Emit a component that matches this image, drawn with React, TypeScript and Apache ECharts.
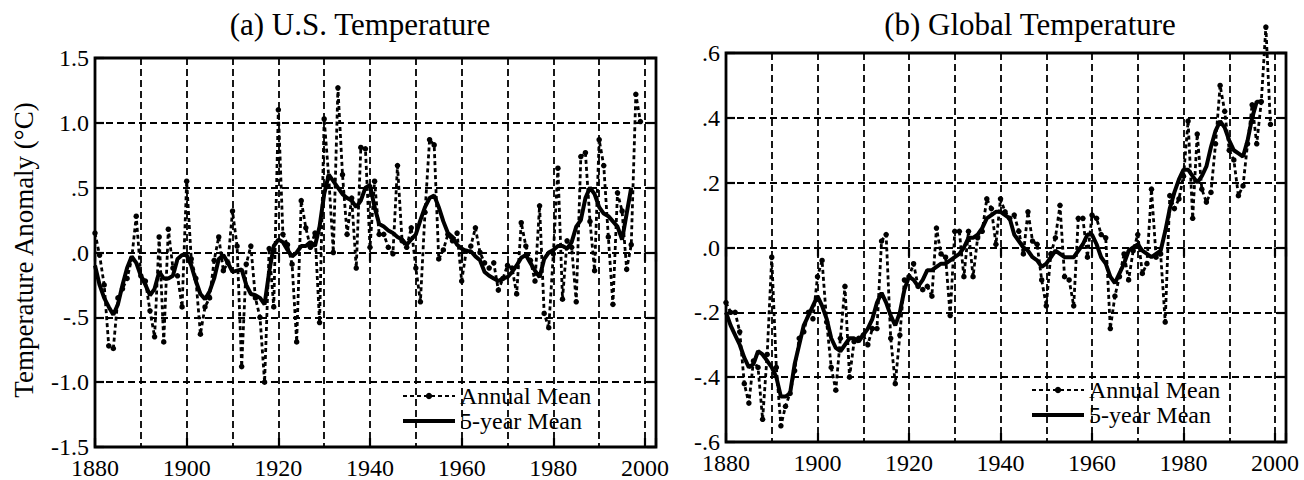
import React, { useEffect, useRef } from "react";
import * as echarts from "echarts";

const START_YEAR = 1880;
const X_MIN = 1880;
const X_MAX = 2002.4;
const FONT = '"Liberation Serif", "Times New Roman", serif';

const usAnnual = [
  0.15, -0.02, -0.25, -0.72, -0.74, -0.35, -0.28, -0.2, -0.05, 0.28,
  -0.18, -0.22, -0.45, -0.65, 0.12, -0.69, 0.18, -0.12, -0.18, -0.42,
  0.55, -0.05, -0.2, -0.63, -0.42, -0.35, -0.06, 0.12, -0.14, -0.08,
  0.32, 0.05, -0.88, -0.09, 0.05, -0.35, -0.5, -1.0, 0.03, -0.42,
  1.1, 0.14, 0.06, -0.09, -0.69, 0.4, 0.19, 0.04, 0.15, -0.54,
  1.03, 0.58, 0.0, 1.27, 0.6, 0.14, 0.42, -0.12, 0.81, 0.8,
  0.04, 0.55, 0.14, 0.14, 0.04, -0.01, 0.67, 0.09, 0.04, 0.19,
  -0.12, -0.38, 0.31, 0.87, 0.83, -0.05, 0.02, 0.14, 0.09, 0.15,
  -0.22, 0.01, 0.05, 0.19, 0.0, -0.08, -0.12, -0.08, -0.29, -0.2,
  -0.1, -0.12, -0.32, 0.23, 0.05, -0.06, -0.22, 0.36, -0.47, -0.58,
  -0.01, 0.65, -0.36, 0.09, 0.04, -0.38, 0.74, 0.77, 0.24, -0.14,
  0.87, 0.67, 0.12, -0.4, 0.46, 0.32, -0.13, 0.06, 1.22, 1.01,
];

const usFiveYear = [
  -0.1, -0.25, -0.35, -0.42, -0.48, -0.4, -0.25, -0.12, -0.03, -0.08,
  -0.18, -0.25, -0.33, -0.28, -0.15, -0.2, -0.2, -0.18, -0.05, -0.02,
  -0.02, -0.1, -0.22, -0.32, -0.36, -0.3, -0.2, -0.05, -0.02, -0.08,
  -0.15, -0.14, -0.13, -0.25, -0.32, -0.33, -0.35, -0.4, -0.15, 0.05,
  0.1, 0.08, 0.02, -0.03, 0.0, 0.05, 0.05, 0.08, 0.05, 0.2,
  0.45, 0.6, 0.55, 0.5, 0.45, 0.42, 0.4, 0.35, 0.4, 0.5,
  0.52, 0.35, 0.22, 0.2, 0.17, 0.15, 0.12, 0.1, 0.06, 0.1,
  0.14, 0.25, 0.35, 0.42, 0.44, 0.35, 0.24, 0.15, 0.12, 0.06,
  0.03, 0.01, 0.01, -0.03, -0.06, -0.15, -0.18, -0.2, -0.22, -0.2,
  -0.19, -0.15, -0.1, -0.04, -0.02, -0.08, -0.14, -0.19, -0.05, 0.0,
  0.02, 0.05, 0.05, 0.03, 0.08, 0.2, 0.25, 0.42, 0.5, 0.45,
  0.35, 0.3, 0.28, 0.24, 0.2, 0.1, 0.3, 0.5,
];

const globalAnnual = [
  -0.17, -0.2, -0.2, -0.26, -0.42, -0.48, -0.35, -0.37, -0.53, -0.33,
  -0.03, -0.37, -0.55, -0.49, -0.45, -0.38, -0.28, -0.26, -0.2, -0.22,
  -0.09, -0.04, -0.23, -0.37, -0.44, -0.28, -0.12, -0.4, -0.29, -0.28,
  -0.27, -0.3, -0.25, -0.25, 0.02, 0.04, -0.28, -0.42, -0.27, -0.1,
  -0.09, -0.05, -0.12, -0.13, -0.12, -0.15, 0.06, -0.02, -0.03, -0.21,
  0.05, 0.05, -0.09, 0.05, -0.09, 0.03, 0.05, 0.15, 0.12, 0.01,
  0.15, 0.11, 0.09, 0.1, 0.05, -0.02, 0.11, 0.02, 0.01, -0.1,
  -0.18, -0.02, 0.03, 0.13, -0.09, -0.1, -0.18, 0.09, 0.09, -0.03,
  0.1, 0.09, 0.04, 0.03, -0.25, -0.15, -0.09, -0.02, -0.1, -0.01,
  0.04, -0.08, -0.05, 0.18, -0.03, -0.02, -0.23, 0.16, 0.12, 0.15,
  0.22, 0.39, 0.09, 0.35, 0.18, 0.14, 0.17, 0.32, 0.5, 0.42,
  0.3, 0.27, 0.16, 0.19, 0.32, 0.44, 0.32, 0.45, 0.68, 0.38,
];

const globalFiveYear = [
  -0.2, -0.24, -0.27, -0.3, -0.34, -0.37, -0.36, -0.32, -0.33, -0.35,
  -0.37, -0.4, -0.46, -0.46, -0.45, -0.36, -0.3, -0.24, -0.21, -0.18,
  -0.15, -0.18, -0.22, -0.28, -0.31, -0.32, -0.3, -0.28, -0.28, -0.29,
  -0.27, -0.25, -0.22, -0.17, -0.14, -0.17, -0.21, -0.24, -0.2, -0.13,
  -0.09, -0.1, -0.12, -0.1, -0.07, -0.07, -0.06, -0.05, -0.05, -0.04,
  -0.03, -0.02, 0.0, 0.03, 0.03, 0.04, 0.06, 0.09, 0.1, 0.11,
  0.11, 0.1, 0.09, 0.04, 0.02, 0.0, -0.01, -0.03, -0.04, -0.06,
  -0.05, -0.03, -0.01, -0.02, -0.03, -0.03, -0.03, -0.01, 0.01, 0.04,
  0.04, 0.01, -0.03, -0.05, -0.09, -0.11, -0.08, -0.05, -0.01, 0.0,
  0.01, -0.01, -0.02, -0.03, -0.02, -0.01, 0.05, 0.12, 0.17, 0.21,
  0.24, 0.24, 0.22, 0.2, 0.22, 0.25, 0.31, 0.36, 0.39, 0.37,
  0.33, 0.3, 0.29, 0.28, 0.33, 0.4, 0.45, 0.45,
];

const titles = ["(a) U.S. Temperature", "(b) Global Temperature"];
const yAxisTitle = "Temperature Anomaly (°C)";
const legendNames = ["Annual Mean", "5-year Mean"];

const toPairs = (arr: number[]) => arr.map((v, i) => [START_YEAR + i, v]);

const fmtY = (v: number) => {
  const r = Math.round(v * 10) / 10;
  let s = Math.abs(r).toFixed(1);
  if (s.startsWith("0")) s = s.slice(1);
  return (r < 0 ? "-" : "") + s;
};

const dash = { type: [7, 4] as any, color: "#000", width: 1.8 };
const tickStyle = { color: "#000", width: 2.2 };

function xAxes(gridIndex: number) {
  const common = { gridIndex, type: "value", min: X_MIN, max: X_MAX };
  return [
    {
      ...common,
      position: "bottom",
      interval: 10,
      axisLine: { show: false },
      axisTick: { show: false },
      axisLabel: {
        formatter: (v: number) => (Math.abs(v % 20) < 1e-6 ? String(v) : ""),
        fontFamily: FONT,
        fontSize: 24,
        lineHeight: 12,
        color: "#000",
        margin: 15,
        showMaxLabel: false,
      },
      splitLine: { show: true, lineStyle: dash },
    },
    {
      ...common,
      position: "top",
      interval: 20,
      axisLine: { show: false },
      axisTick: { show: true, inside: true, length: 9, lineStyle: tickStyle },
      axisLabel: { show: false },
      splitLine: { show: false },
    },
    {
      ...common,
      position: "bottom",
      interval: 20,
      axisLine: { show: false },
      axisTick: { show: true, inside: true, length: 9, lineStyle: tickStyle },
      axisLabel: { show: false },
      splitLine: { show: false },
    },
  ];
}

function yAxes(gridIndex: number, min: number, max: number, interval: number) {
  const common = { gridIndex, type: "value", min, max, interval };
  return [
    {
      ...common,
      position: "left",
      axisLine: { show: false },
      axisTick: { show: true, inside: true, length: 9, lineStyle: tickStyle },
      axisLabel: { formatter: fmtY, fontFamily: FONT, fontSize: 24, lineHeight: 10, color: "#000", margin: 6 },
      splitLine: { show: true, lineStyle: dash },
    },
    {
      ...common,
      position: "right",
      axisLine: { show: false },
      axisTick: { show: true, inside: true, length: 9, lineStyle: tickStyle },
      axisLabel: { show: false },
      splitLine: { show: false },
    },
  ];
}

function seriesFor(xIdx: number, yIdx: number, annual: number[], five: number[]) {
  return [
    {
      name: legendNames[0],
      type: "line",
      xAxisIndex: xIdx,
      yAxisIndex: yIdx,
      data: toPairs(annual),
      symbol: "circle",
      symbolSize: 5.5,
      showSymbol: true,
      clip: false,
      lineStyle: { type: [4, 3], width: 2.8, color: "#000" },
      itemStyle: { color: "#000" },
      z: 3,
    },
    {
      name: legendNames[1],
      type: "line",
      xAxisIndex: xIdx,
      yAxisIndex: yIdx,
      data: toPairs(five),
      symbol: "none",
      lineStyle: { width: 4, color: "#000" },
      itemStyle: { color: "#000" },
      z: 4,
    },
  ];
}

function legendAt(left: number, top: number) {
  return {
    left,
    top,
    padding: 0,
    orient: "vertical",
    itemWidth: 52,
    itemHeight: 8,
    itemGap: 1,
    selectedMode: false,
    textStyle: { fontFamily: FONT, fontSize: 24, lineHeight: 24, color: "#000", padding: [0, 0, 0, 0] },
    data: [
      { name: legendNames[0] },
      { name: legendNames[1], icon: "path://M0,0H52V4H0Z" },
    ],
  };
}

export default function App() {
  const ref = useRef<HTMLDivElement>(null);
  useEffect(() => {
    if (!ref.current) return;
    const chart = echarts.init(ref.current, null, { renderer: "svg" });
    const gridCommon = { show: true, borderColor: "#000", borderWidth: 2.8, backgroundColor: "transparent" };
    chart.setOption({
      animation: false,
      backgroundColor: "#fff",
      grid: [
        { ...gridCommon, left: 95, top: 58, width: 561, height: 390 },
        { ...gridCommon, left: 726, top: 53, width: 560, height: 389 },
      ],
      xAxis: [...xAxes(0), ...xAxes(1)],
      yAxis: [...yAxes(0, -1.5, 1.5, 0.5), ...yAxes(1, -0.6, 0.6, 0.2)],
      legend: [legendAt(402, 384), legendAt(1031, 378)],
      series: [
        ...seriesFor(0, 0, usAnnual, usFiveYear),
        ...seriesFor(3, 2, globalAnnual, globalFiveYear),
      ],
      graphic: [
        {
          type: "text",
          x: 360,
          y: 24,
          style: { text: titles[0], font: `31px ${FONT}`, fill: "#000", textAlign: "center", textVerticalAlign: "middle" },
        },
        {
          type: "text",
          x: 1030,
          y: 24,
          style: { text: titles[1], font: `31px ${FONT}`, fill: "#000", textAlign: "center", textVerticalAlign: "middle" },
        },
        {
          type: "text",
          x: 24,
          y: 250,
          rotation: Math.PI / 2,
          style: { text: yAxisTitle, font: `27px ${FONT}`, fill: "#000", textAlign: "center", textVerticalAlign: "middle" },
        },
      ],
    });
    return () => chart.dispose();
  }, []);
  return <div ref={ref} style={{ position: "absolute", left: 0, top: 0, width: 1304, height: 480 }} />;
}
